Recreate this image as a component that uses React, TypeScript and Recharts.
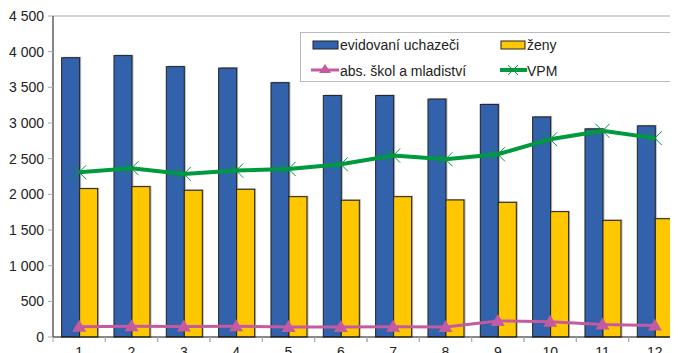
import React from 'react';
import { ComposedChart, Bar, Line, XAxis, YAxis, ReferenceLine } from 'recharts';

const months = ['1', '2', '3', '4', '5', '6', '7', '8', '9', '10', '11', '12'];
const uchazeci = [3915, 3945, 3790, 3770, 3565, 3385, 3385, 3335, 3260, 3085, 2918, 2960];
const zeny = [2080, 2108, 2057, 2071, 1967, 1917, 1967, 1921, 1888, 1757, 1635, 1658];
const absolventi = [145, 150, 148, 150, 140, 140, 145, 140, 225, 215, 175, 160];
const vpm = [2310, 2366, 2286, 2333, 2356, 2422, 2543, 2492, 2562, 2773, 2890, 2788];
const yTicks = [0, 500, 1000, 1500, 2000, 2500, 3000, 3500, 4000, 4500];

const data = months.map((m, i) => ({
  m,
  uchazeci: uchazeci[i],
  zeny: zeny[i],
  absolventi: absolventi[i],
  vpm: vpm[i],
}));

const BLUE = '#3162AB';
const YELLOW = '#FFC700';
const PINK = '#C45AA0';
const GREEN = '#009A3E';
const FONT = '"Liberation Sans", Arial, sans-serif';

const fmt = (v: number) => String(v).replace(/\B(?=(\d{3})+(?!\d))/g, ' ');

const ShadowBar = (props: any) => {
  const { x, y, width, height, fill } = props;
  if (x == null || height == null || height <= 0) return <g />;
  return (
    <g>
      <rect x={x + 1.5} y={y - 1} width={width} height={height + 1} fill="#9a9a9a" opacity={0.7} />
      <rect x={x} y={y} width={width} height={height} fill={fill} stroke="#222" strokeWidth={1} />
    </g>
  );
};

const Triangle = (props: any) => {
  const { cx, cy, index } = props;
  if (cx == null || cy == null) return <g key={index} />;
  return <path key={index} d={`M${cx},${cy - 7} L${cx + 7},${cy + 5} L${cx - 7},${cy + 5} Z`} fill={PINK} />;
};

const Cross = (props: any) => {
  const { cx, cy, index } = props;
  if (cx == null || cy == null) return <g key={index} />;
  return (
    <path key={index} d={`M${cx - 7},${cy - 7} L${cx + 7},${cy + 7} M${cx - 7},${cy + 7} L${cx + 7},${cy - 7}`} stroke={GREEN} strokeWidth={1} fill="none" />
  );
};

const XTick = (props: any) => {
  const { x, y, payload } = props;
  const off = payload && payload.offset ? payload.offset : 26;
  return (
    <g>
      <line x1={x - off} x2={x - off} y1={y - 10} y2={y - 5} stroke="#aaa" />
      <line x1={x + off} x2={x + off} y1={y - 10} y2={y - 5} stroke="#aaa" />
      <text x={x} y={y} dy="0.71em" textAnchor="middle" fontSize={14} fontFamily={FONT} fill="#222">
        {payload.value}
      </text>
    </g>
  );
};

const LegendBox = () => (
  <div
    style={{
      position: 'absolute',
      left: 292,
      top: 24,
      width: 376,
      height: 50,
      boxSizing: 'border-box',
      border: '1px solid #bbb',
      background: '#fff',
    }}
  >
    <svg width={376} height={50} style={{ position: 'absolute', left: -1, top: -1 }}>
      <rect x={13} y={9} width={25} height={8} fill={BLUE} stroke="#222" />
      <text x={40} y={18} fontSize={14} fontFamily={FONT} fill="#222">evidovaní uchazeči</text>
      <rect x={201} y={9} width={24} height={8} fill={YELLOW} stroke="#222" />
      <text x={227} y={18} fontSize={14} fontFamily={FONT} fill="#222">ženy</text>
      <line x1={11} x2={39} y1={38} y2={38} stroke={PINK} strokeWidth={3} />
      <path d="M25,32 L31,41 L19,41 Z" fill={PINK} />
      <text x={40} y={44} fontSize={14} fontFamily={FONT} fill="#222">abs. škol a mladiství</text>
      <line x1={200} x2={227} y1={38} y2={38} stroke={GREEN} strokeWidth={4} />
      <path d="M208,33 L218,43 M208,43 L218,33" stroke={GREEN} strokeWidth={1} />
      <text x={227} y={44} fontSize={14} fontFamily={FONT} fill="#222">VPM</text>
    </svg>
  </div>
);

export default function App() {
  return (
    <div style={{ width: 670, height: 345, overflow: 'hidden', position: 'relative', background: '#fff' }}>
      <ComposedChart
        width={678}
        height={359}
        data={data}
        margin={{ top: 8, right: 5, bottom: 0, left: 0 }}
        barCategoryGap="16.5%"
        barGap={0}
      >
        <ReferenceLine y={4500} stroke="#aaa" strokeWidth={1} ifOverflow="extendDomain" />
        <XAxis
          dataKey="m"
          height={30}
          axisLine={{ stroke: '#111', strokeWidth: 1 }}
          tickLine={false}
          tickSize={8}
          tickMargin={2}
          tick={<XTick />}
          interval={0}
        />
        <YAxis
          width={45}
          domain={[0, 4500]}
          ticks={yTicks}
          tickFormatter={fmt}
          axisLine={{ stroke: '#111', strokeWidth: 1 }}
          tickLine={{ stroke: '#aaa' }}
          tickSize={5}
          tickMargin={4}
          tick={{ fontSize: 14, fontFamily: FONT, fill: '#222' }}
        />
        <Bar dataKey="uchazeci" fill={BLUE} shape={<ShadowBar />} isAnimationActive={false} />
        <Bar dataKey="zeny" fill={YELLOW} shape={<ShadowBar />} isAnimationActive={false} />
        <Line dataKey="absolventi" stroke={PINK} strokeWidth={3} dot={<Triangle />} activeDot={false} isAnimationActive={false} />
        <Line dataKey="vpm" stroke={GREEN} strokeWidth={4} dot={<Cross />} activeDot={false} isAnimationActive={false} />
      </ComposedChart>
      <LegendBox />
    </div>
  );
}
